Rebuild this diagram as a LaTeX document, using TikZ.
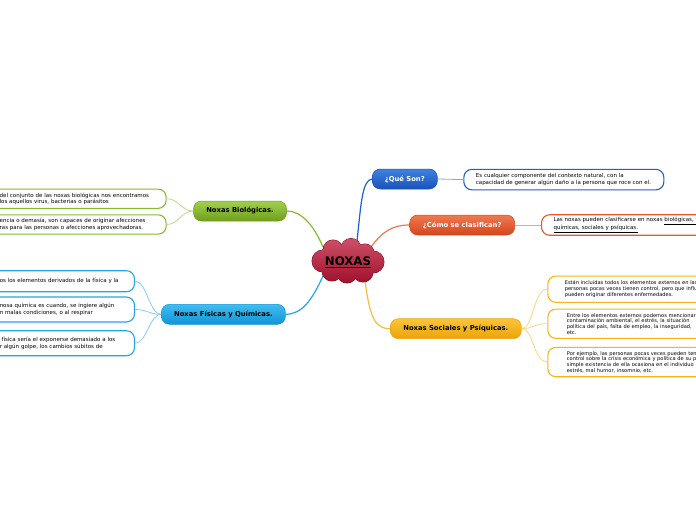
\documentclass[tikz,border=0pt]{standalone}
\usepackage{fontspec}
\setmainfont{DejaVu Sans}
\usetikzlibrary{backgrounds}
\definecolor{qtop}{HTML}{3D82E0}\definecolor{qbot}{HTML}{1A52B8}\definecolor{qln}{HTML}{1F5FD0}
\definecolor{ctop}{HTML}{F07A50}\definecolor{cbot}{HTML}{D4461C}\definecolor{cln}{HTML}{E8582C}
\definecolor{stop}{HTML}{FBC43A}\definecolor{sbot}{HTML}{EBA40A}\definecolor{sln}{HTML}{F7B417}
\definecolor{btop}{HTML}{A0D04C}\definecolor{bbot}{HTML}{6F9E1C}\definecolor{bln}{HTML}{84BC2C}
\definecolor{ftop}{HTML}{40BEF2}\definecolor{fbot}{HTML}{1294D4}\definecolor{fln}{HTML}{22A6E6}
\definecolor{ntop}{HTML}{CE5068}\definecolor{nbot}{HTML}{A0102C}
\newcommand\Lx[1]{\mbox{#1}}
\newcommand\detfont{\fontsize{5.5}{7}\selectfont}
\newcommand\socfont{\fontsize{5.1}{5.6}\selectfont}
\newcommand\topicfont{\fontsize{6.8}{7.5}\selectfont\bfseries}
\newcommand\cloudpath{(333,250) circle (10) (351,248.5) circle (10) (365,253) circle (9)
  (373,262) circle (11) (363,272) circle (10) (347,273) circle (10)
  (332,271) circle (10) (323,261) circle (11) (347.5,261) ellipse (26 and 14)}
\tikzset{
  topic/.style 2 args={rounded corners=8pt, minimum height=20pt, inner sep=0pt,
    draw=#2, line width=0.5pt, top color=#1, bottom color=#2, font=\topicfont},
  det/.style={draw=#1, line width=1.1pt, fill=white, rounded corners=8pt,
    inner ysep=0pt, align=left, font=\detfont},
  mainlink/.style={draw=#1, line width=1.2pt},
  sublink/.style={draw=#1!55!white, line width=0.8pt},
}
\begin{document}
\begin{tikzpicture}[x=1pt,y=-1pt]
\useasboundingbox (0,0) rectangle (696,520);
\clip (0,0) rectangle (696,520);

% central cloud
\draw[nbot!70!black, line width=0.9pt] \cloudpath;
\shade[top color=ntop, bottom color=nbot] \cloudpath;
\node[inner sep=0pt, minimum width=72pt, minimum height=44pt] (noxas) at (348,262)
  {\fontsize{11.8}{12}\selectfont\bfseries\underline{NOXAS}};
\coordinate (nq) at (357,241);
\coordinate (nc) at (371,247);
\coordinate (ns) at (365,281);
\coordinate (nb) at (323,247);
\coordinate (nf) at (323,276);

% topics
\node[topic={qtop}{qbot}, minimum width=65pt, text=white] (que) at (404.8,179) {¿Qué Son?};
\node[topic={ctop}{cbot}, minimum width=105pt, text=white] (como) at (462.2,225) {¿Cómo se clasifican?};
\node[topic={stop}{sbot}, minimum width=131pt] (soc) at (455.8,328.7) {Noxas Sociales y Psíquicas.};
\node[topic={btop}{bbot}, minimum width=93pt] (bio) at (240,211) {Noxas Biológicas.};
\node[topic={ftop}{fbot}, minimum width=124pt] (fis) at (223.4,314.3) {Noxas Físicas y Químicas.};

% main links (behind)
\begin{scope}[on background layer]
\draw[mainlink=qln] (nq) .. controls (361,205) and (362,180) .. (que.west);
\draw[mainlink=cln!80!white] (nc) .. controls (382,232) and (392,225) .. (como.west);
\draw[mainlink=sln!85!white] (ns) .. controls (370,318) and (375,328.7) .. (soc.west);
\draw[mainlink=bln] (nb) .. controls (314,226) and (302,211) .. (bio.east);
\draw[mainlink=fln] (nf) .. controls (312,300) and (302,314.3) .. (fis.east);
\end{scope}

% details right
\node[det=qln, anchor=west, minimum width=200pt, minimum height=20.5pt,
  inner xsep=12pt, text width=176pt] (qd) at (463.3,179.6)
  {\Lx{Es cualquier componente del contexto natural, con la}\\
   \Lx{capacidad de generar algún daño a la persona que roce con el.}};
\node[det=cln, anchor=west, minimum width=230pt, minimum height=20.5pt,
  inner xsep=12pt, text width=206pt] (cd) at (541,225)
  {\Lx{Las noxas pueden clasificarse en noxas \underline{biológicas, físicas,}}\\
   \Lx{\underline{químicas, sociales y psíquicas.}}};
\node[det=sln, anchor=west, minimum width=230pt, minimum height=26.3pt,
  inner xsep=16.7pt, text width=196pt, font=\fontsize{5.1}{6.2}\selectfont] (sd1) at (547.3,289.2)
  {\Lx{Están incluidas todos los elementos externos en las}\\
   \Lx{personas pocas veces tienen control, pero que influyen y}\\
   \Lx{pueden originar diferentes enfermedades.}};
\node[det=sln, anchor=west, minimum width=230pt, minimum height=29.3pt,
  inner xsep=19pt, text width=192pt, font=\socfont] (sd2) at (547.3,323.7)
  {\Lx{Entre los elementos externos podemos mencionar la}\\
   \Lx{contaminación ambiental, el estrés, la situación}\\
   \Lx{política del país, falta de empleo, la inseguridad,}\\
   \Lx{etc.}};
\node[det=sln, anchor=west, minimum width=230pt, minimum height=29.4pt,
  inner xsep=19pt, text width=192pt, font=\socfont] (sd3) at (547.3,362)
  {\Lx{Por ejemplo, las personas pocas veces pueden tener}\\
   \Lx{control sobre la crisis económica y política de su país,}\\
   \Lx{simple existencia de ella ocasiona en el individuo}\\
   \Lx{estrés, mal humor, insomnio, etc.}};

% details left (green)
\node[det=bln, anchor=east, minimum width=182pt, minimum height=19.3pt,
  inner xsep=15.5pt, text width=151pt, font=\fontsize{5.5}{6.4}\selectfont] (bd1) at (166.7,198.7)
  {\Lx{del conjunto de las noxas biológicas nos encontramos}\\
   \Lx{los aquellos virus, bacterias o parásitos}};
\node[det=bln, anchor=east, minimum width=182pt, minimum height=19.3pt,
  inner xsep=15.5pt, text width=151pt, font=\fontsize{5.5}{6.4}\selectfont] (bd2) at (166.7,224.5)
  {\Lx{encia o demasía, son capaces de originar afecciones}\\
   \Lx{ras para las personas o afecciones aprovechadoras.}};

% details left (blue)
\node[det=fln, anchor=east, minimum width=150pt, minimum height=21pt,
  inner xsep=15.3pt, text width=119.4pt] (fd1) at (135,281.2)
  {\Lx{os los elementos derivados de la física y la}};
\node[det=fln, anchor=east, minimum width=150pt, minimum height=25pt,
  inner xsep=15.3pt, text width=119.4pt, font=\fontsize{5.5}{6.4}\selectfont] (fd2) at (135,309.5)
  {\Lx{nosa química es cuando, se ingiere algún}\\
   \Lx{n malas condiciones, o al respirar}};
\node[det=fln, anchor=east, minimum width=150pt, minimum height=25pt,
  inner xsep=15.3pt, text width=119.4pt, font=\fontsize{5.5}{7.6}\selectfont] (fd3) at (135,343.2)
  {\Lx{ física sería el exponerse demasiado a los}\\
   \Lx{r algún golpe, los cambios súbitos de}};

% sub links
\draw[sublink=qln] (que.east) -- (qd.west);
\draw[sublink=cln] (como.east) -- (cd.west);
\foreach \t in {sd1,sd2,sd3}
  \draw[sublink=sln] (soc.east) .. controls +(12,0) and +(-14,0) .. (\t.west);
\foreach \t in {bd1,bd2}
  \draw[sublink=bln] (bio.west) .. controls +(-12,0) and +(12,0) .. (\t.east);
\foreach \t in {fd1,fd2,fd3}
  \draw[sublink=fln] (fis.west) .. controls +(-12,0) and +(12,0) .. (\t.east);
\end{tikzpicture}
\end{document}
